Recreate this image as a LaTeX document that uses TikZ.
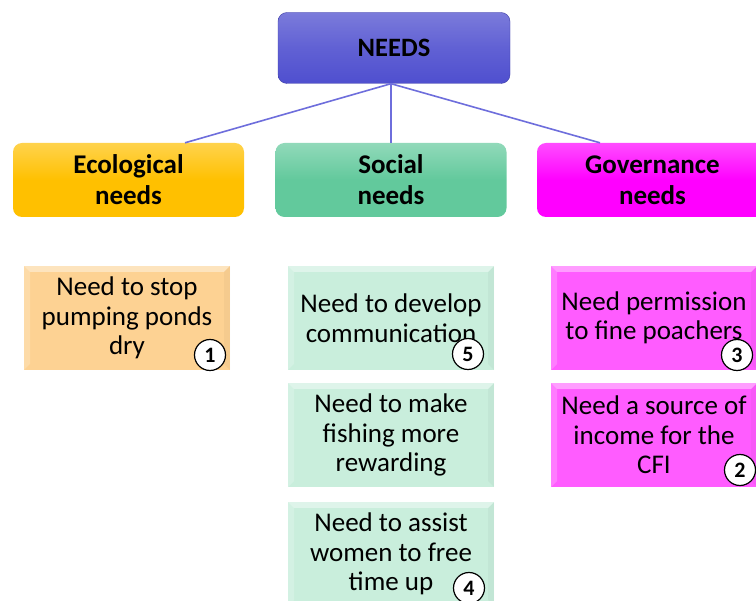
\documentclass[tikz,border=0pt]{standalone}
\usepackage{fontspec}
\setmainfont{Carlito}
\begin{document}
\begin{tikzpicture}[x=1pt,y=-1pt,
  header/.style={rounded corners=9pt, minimum width=231pt, minimum height=74pt,
    align=center, inner sep=0pt, font=\fontsize{27}{31}\selectfont\bfseries},
  detail/.style={minimum width=206pt, minimum height=104pt, align=center, inner sep=0pt,
    font=\fontsize{27}{29.5}\selectfont,
    path picture={
      \fill[white,opacity=0.4] (path picture bounding box.north west) -- (path picture bounding box.north east)
        -- ([xshift=-6pt,yshift=-6pt]path picture bounding box.north east) -- ([xshift=6pt,yshift=-6pt]path picture bounding box.north west) -- cycle;
      \fill[white,opacity=0.2] (path picture bounding box.north west) -- ([xshift=6pt,yshift=-6pt]path picture bounding box.north west)
        -- ([xshift=6pt,yshift=6pt]path picture bounding box.south west) -- (path picture bounding box.south west) -- cycle;
      \fill[black,opacity=0.03] (path picture bounding box.north east) -- ([xshift=-6pt,yshift=-6pt]path picture bounding box.north east)
        -- ([xshift=-6pt,yshift=6pt]path picture bounding box.south east) -- (path picture bounding box.south east) -- cycle;
    }},
  badge/.style={circle, draw=black, line width=1.2pt, fill=white, minimum size=31pt, inner sep=0pt,
    font=\fontsize{22}{22}\selectfont\bfseries},
  link/.style={draw=linkblue, line width=1.6pt}
]
\definecolor{needsblue}{HTML}{4F4FCF}
\definecolor{linkblue}{HTML}{6E6EDC}
\definecolor{ecoorange}{HTML}{FFC000}
\definecolor{socgreen}{HTML}{62C99C}
\definecolor{govmag}{HTML}{FF00FF}
\definecolor{ecolight}{HTML}{FDD293}
\definecolor{soclight}{HTML}{C9EEDC}
\definecolor{govlight}{HTML}{FF5CFF}

\clip (0,0) rectangle (756,601);
\fill[white] (0,0) rectangle (756,601);

% top box
\node[header, top color=needsblue!75!white, bottom color=needsblue, middle color=needsblue!90!white,
  draw=needsblue!80!black, line width=0.4pt, minimum width=232pt, minimum height=71pt,
  font=\fontsize{26.5}{30}\selectfont\bfseries] (needs) at (394,48) {NEEDS};

% category boxes
\node[header, top color=ecoorange!70!white, bottom color=ecoorange, middle color=ecoorange] (eco) at (128.5,180) {Ecological\\needs};
\node[header, top color=socgreen!70!white, bottom color=socgreen, middle color=socgreen] (soc) at (391,180) {Social\\needs};
\node[header, top color=govmag!70!white, bottom color=govmag, middle color=govmag] (gov) at (652.5,180) {Governance\\needs};

% connectors
\draw[link] ([xshift=-3pt]needs.south) -- ([xshift=56.5pt]eco.north);
\draw[link] ([xshift=-3pt]needs.south) -- (soc.north);
\draw[link] ([xshift=-3pt]needs.south) -- ([xshift=-52.5pt]gov.north);

% detail boxes
\node[detail, fill=ecolight] (d1) at (127,318) {Need to stop\\pumping ponds\\dry};
\node[detail, fill=soclight] (s1) at (391,318) {Need to develop\\communication};
\node[detail, fill=soclight] (s2) at (391,435) {Need to make\\fishing more\\rewarding};
\node[detail, fill=soclight] (s3) at (391,554) {Need to assist\\women to free\\time up};
\node[detail, fill=govlight] (g1) at (654,318) {Need permission\\to fine poachers};
\node[detail, fill=govlight] (g2) at (654,435) {Need a source of\\income for the\\CFI};

% ranking badges
\node[badge] (b1) at (210,355) {1};
\node[badge] (b5) at (468,354) {5};
\node[badge] (b4) at (469,588) {4};
\node[badge] (b3) at (737,355) {3};
\node[badge] (b2) at (740,470) {2};
\end{tikzpicture}
\end{document}
